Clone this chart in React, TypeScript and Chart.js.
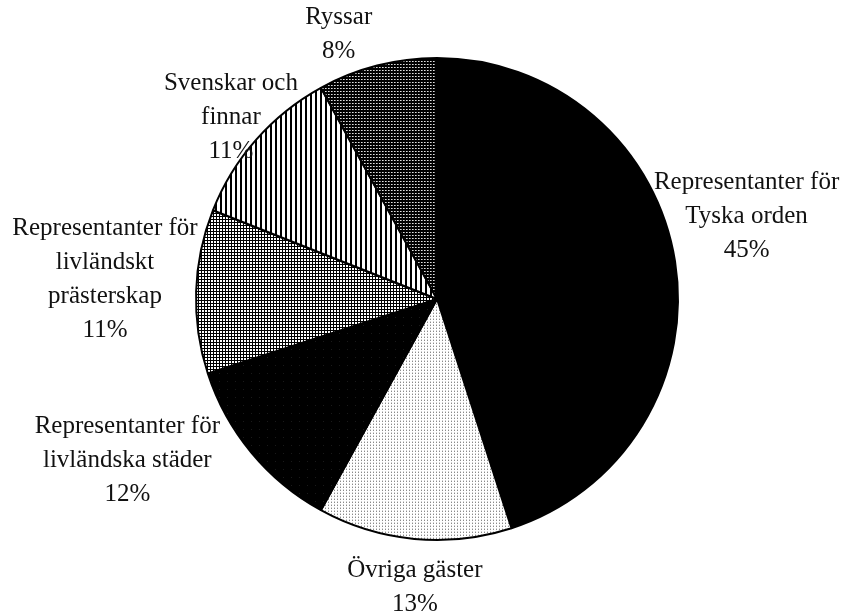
import React, { useEffect, useRef } from "react";
import { Chart, registerables } from "chart.js";

Chart.register(...registerables);

// Data
const categories: string[][] = [
  ["Representanter för", "Tyska orden"],
  ["Övriga gäster"],
  ["Representanter för", "livländska städer"],
  ["Representanter för", "livländskt", "prästerskap"],
  ["Svenskar och", "finnar"],
  ["Ryssar"],
];
const shares = [45, 13, 12, 11, 11, 8];

// Label placement style: radial factor and angle nudge (deg) relative to slice mid-angle
const labelRadial = [1.33, 1.2, 1.45, 1.38, 1.14, 1.17];
const labelAngleNudge = [-6, -1, 12, 1.6, 0, -6];

function makePattern(size: number, draw: (ctx: CanvasRenderingContext2D) => void): CanvasPattern | string {
  const c = document.createElement("canvas");
  c.width = size;
  c.height = size;
  const ctx = c.getContext("2d");
  if (!ctx) return "#888";
  draw(ctx);
  const p = ctx.createPattern(c, "repeat");
  return p || "#888";
}

export default function App() {
  const ref = useRef<HTMLCanvasElement | null>(null);

  useEffect(() => {
    if (!ref.current) return;

    const solidBlack = "#000000";
    const dottedLight = makePattern(3, (ctx) => {
      ctx.fillStyle = "#ffffff";
      ctx.fillRect(0, 0, 3, 3);
      ctx.fillStyle = "#8a8a8a";
      ctx.fillRect(1, 1, 1, 1);
      ctx.fillStyle = "#d0d0d0";
      ctx.fillRect(1, 0, 1, 1);
    });
    const nearBlack = makePattern(8, (ctx) => {
      ctx.fillStyle = "#000000";
      ctx.fillRect(0, 0, 8, 8);
      ctx.fillStyle = "#1a1a1a";
      ctx.fillRect(3, 5, 1, 1);
    });
    const grid = makePattern(3, (ctx) => {
      ctx.fillStyle = "#000000";
      ctx.fillRect(0, 0, 3, 3);
      ctx.fillStyle = "#ffffff";
      ctx.fillRect(1, 1, 2, 2);
    });
    const vlines = makePattern(5, (ctx) => {
      ctx.fillStyle = "#ffffff";
      ctx.fillRect(0, 0, 5, 5);
      ctx.fillStyle = "#000000";
      ctx.fillRect(0, 0, 2, 5);
    });
    const darkDots = makePattern(3, (ctx) => {
      ctx.fillStyle = "#000000";
      ctx.fillRect(0, 0, 3, 3);
      ctx.fillStyle = "#e0e0e0";
      ctx.fillRect(1, 1, 1, 1);
      ctx.fillStyle = "#8c8c8c";
      ctx.fillRect(2, 1, 1, 1);
    });

    const fills = [solidBlack, dottedLight, nearBlack, grid, vlines, darkDots];

    const labelPlugin = {
      id: "pieLabels",
      afterDraw(chart: any) {
        const meta = chart.getDatasetMeta(0);
        const ctx: CanvasRenderingContext2D = chart.ctx;
        ctx.save();
        ctx.font = "25px 'Liberation Serif', 'Times New Roman', serif";
        ctx.fillStyle = "#111111";
        ctx.textAlign = "center";
        ctx.textBaseline = "middle";
        const lineH = 34;
        meta.data.forEach((arc: any, i: number) => {
          const p = arc.getProps(["x", "y", "startAngle", "endAngle", "outerRadius"], true);
          const mid = (p.startAngle + p.endAngle) / 2 + (labelAngleNudge[i] * Math.PI) / 180;
          const r = p.outerRadius * labelRadial[i];
          const cx = p.x + Math.cos(mid) * r;
          const cy = p.y + Math.sin(mid) * r;
          const lines = [...categories[i], `${shares[i]}%`];
          const top = cy - ((lines.length - 1) * lineH) / 2;
          lines.forEach((t, j) => ctx.fillText(t, cx, top + j * lineH));
        });
        ctx.restore();
      },
    };

    const chart = new Chart(ref.current, {
      type: "pie",
      data: {
        labels: categories.map((c) => c.join(" ")),
        datasets: [
          {
            data: shares,
            backgroundColor: fills as any,
            borderColor: "#000000",
            borderWidth: 2,
            hoverOffset: 0,
          },
        ],
      },
      options: {
        animation: false,
        responsive: true,
        maintainAspectRatio: false,
        layout: { padding: { top: 57, bottom: 72, left: 158, right: 137 } },
        plugins: {
          legend: { display: false },
          tooltip: { enabled: false },
        },
      },
      plugins: [labelPlugin],
    });

    return () => chart.destroy();
  }, []);

  return (
    <div style={{ position: "absolute", left: 0, top: 0, width: 853, height: 613 }}>
      <canvas ref={ref} />
    </div>
  );
}
